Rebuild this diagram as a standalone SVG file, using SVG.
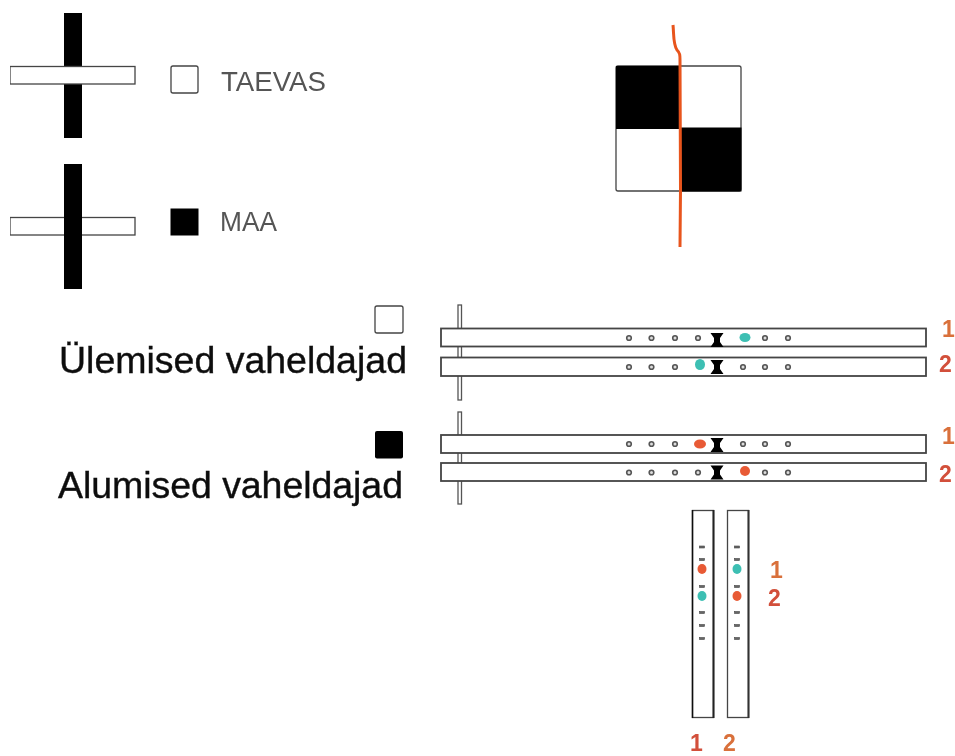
<svg xmlns="http://www.w3.org/2000/svg" width="955" height="756" viewBox="0 0 955 756">
<defs>
<style>
.w{fill:#fff;stroke:#444;stroke-width:1.3}
.b{fill:#000}
.bar{fill:#fff;stroke:#444;stroke-width:1.8}
.pin{fill:#fff;stroke:#555;stroke-width:1.3}
.d{fill:#ddd;stroke:#555;stroke-width:1.6}
.t{fill:#666;stroke:#444;stroke-width:.6}
.c{fill:#3dbfb3}
.r{fill:#e85a35}
.lbl{font-family:"Liberation Sans",Arial,sans-serif;font-size:27px;fill:#555}
.head{font-family:"Liberation Sans",Arial,sans-serif;font-size:37.500px;fill:#111;stroke:#111;stroke-width:.4}
.n{font-family:"Liberation Sans",Arial,sans-serif;font-size:23px;font-weight:bold}
.n1{fill:#d9703a}
.n2{fill:#d2503a}
</style>
<filter id="soft" x="0" y="0" width="100%" height="100%"><feGaussianBlur stdDeviation="0.6"/></filter>
<path id="x" d="M-6.500-7H6.500L3-2V2L6.500 7H-6.500L-3 2V-2Z" fill="#000"/>
</defs>
<rect width="955" height="756" fill="#fff"/>
<g filter="url(#soft)">
<g id="cross-taevas">
<rect class="b" x="64" y="13" width="18" height="125"/>
<rect class="w" x="10" y="66.500" width="125" height="17.500"/>
</g>
<g id="cross-maa">
<rect class="w" x="10" y="217.500" width="125" height="17.500"/>
<rect class="b" x="64" y="164" width="18" height="125"/>
</g>
<g id="legend-taevas">
<rect class="w" x="171" y="66" width="27" height="27" rx="2"/>
<text class="lbl" x="221" y="90.500" textLength="105" lengthAdjust="spacingAndGlyphs">TAEVAS</text>
</g>
<g id="legend-maa">
<rect class="b" x="170.500" y="208.500" width="28" height="27"/>
<text class="lbl" x="220" y="231" textLength="57" lengthAdjust="spacingAndGlyphs">MAA</text>
</g>
<g id="checker">
<rect class="w" x="616" y="66" width="125" height="125" rx="2"/>
<rect class="b" x="616" y="66" width="64" height="63"/>
<rect class="b" x="680" y="127.500" width="61.500" height="64"/>
</g>
<g id="upper-group">
<rect class="w" x="375" y="306" width="28" height="27" rx="2"/>
<text class="head" x="59" y="373" textLength="348">Ülemised vaheldajad</text>
<rect class="pin" x="458" y="305" width="3.500" height="95"/>
</g>
<g id="lower-group">
<rect class="b" x="375" y="431" width="28" height="27.500" rx="2"/>
<text class="head" x="58" y="498" textLength="345">Alumised vaheldajad</text>
<rect class="pin" x="458" y="412" width="3.500" height="92"/>
</g>
<g id="bar-u1">
<rect class="bar" x="441" y="328.500" width="485" height="18"/>
<circle class="d" cx="629" cy="338" r="2.300"/><circle class="d" cx="651.500" cy="338" r="2.300"/><circle class="d" cx="675" cy="338" r="2.300"/><circle class="d" cx="698" cy="338" r="2.300"/><circle class="d" cx="765" cy="338" r="2.300"/><circle class="d" cx="788" cy="338" r="2.300"/>
<use href="#x" x="717" y="340"/>
<ellipse class="c" cx="745" cy="337.500" rx="5.500" ry="4.500"/>
</g>
<g id="bar-u2">
<rect class="bar" x="441" y="357.500" width="485" height="18.500"/>
<circle class="d" cx="629" cy="367" r="2.300"/><circle class="d" cx="651.500" cy="367" r="2.300"/><circle class="d" cx="675" cy="367" r="2.300"/><circle class="d" cx="743" cy="367" r="2.300"/><circle class="d" cx="765" cy="367" r="2.300"/><circle class="d" cx="788" cy="367" r="2.300"/>
<use href="#x" x="717" y="367"/>
<ellipse class="c" cx="700" cy="364.500" rx="5" ry="5.500"/>
</g>
<g id="bar-l1">
<rect class="bar" x="441" y="435" width="485" height="18"/>
<circle class="d" cx="629" cy="444" r="2.300"/><circle class="d" cx="651.500" cy="444" r="2.300"/><circle class="d" cx="675" cy="444" r="2.300"/><circle class="d" cx="743" cy="444" r="2.300"/><circle class="d" cx="765" cy="444" r="2.300"/><circle class="d" cx="788" cy="444" r="2.300"/>
<use href="#x" x="717" y="445"/>
<ellipse class="r" cx="700" cy="444" rx="6" ry="4.500"/>
</g>
<g id="bar-l2">
<rect class="bar" x="441" y="463" width="485" height="18"/>
<circle class="d" cx="629" cy="472.500" r="2.300"/><circle class="d" cx="651.500" cy="472.500" r="2.300"/><circle class="d" cx="675" cy="472.500" r="2.300"/><circle class="d" cx="698" cy="472.500" r="2.300"/><circle class="d" cx="765" cy="472.500" r="2.300"/><circle class="d" cx="788" cy="472.500" r="2.300"/>
<use href="#x" x="717" y="472.500"/>
<ellipse class="r" cx="745" cy="471" rx="5" ry="5"/>
</g>
<g id="bar-v1">
<rect class="w" x="692.500" y="510.500" width="21" height="207"/>
<path d="M692.500 510V718" stroke="#111" stroke-width="1.500"/><path d="M713.500 510V718" stroke="#222" stroke-width="2"/>
<g class="t"><rect x="699.500" y="546" width="5" height="2"/><rect x="699.500" y="558.500" width="5" height="2"/><rect x="699.500" y="585.500" width="5" height="2"/><rect x="699.500" y="611.500" width="5" height="2"/><rect x="699.500" y="624.500" width="5" height="2"/><rect x="699.500" y="637.500" width="5" height="2"/></g>
<ellipse class="r" cx="702" cy="569" rx="4.500" ry="5"/>
<ellipse class="c" cx="702" cy="596" rx="4.500" ry="5"/>
</g>
<g id="bar-v2">
<rect class="w" x="727.500" y="510.500" width="21" height="207"/>
<path d="M748.500 510V718" stroke="#333" stroke-width="2"/>
<g class="t"><rect x="734.500" y="546" width="5" height="2"/><rect x="734.500" y="558.500" width="5" height="2"/><rect x="734.500" y="585.500" width="5" height="2"/><rect x="734.500" y="611.500" width="5" height="2"/><rect x="734.500" y="624.500" width="5" height="2"/><rect x="734.500" y="637.500" width="5" height="2"/></g>
<ellipse class="c" cx="737" cy="569" rx="4.500" ry="5"/>
<ellipse class="r" cx="737" cy="596" rx="4.500" ry="5"/>
</g>
<g id="numbers">
<text class="n n1" x="942" y="337">1</text>
<text class="n n2" x="939" y="372">2</text>
<text class="n n1" x="942" y="444">1</text>
<text class="n n2" x="939" y="482">2</text>
<text class="n n1" x="770" y="578">1</text>
<text class="n n2" x="768" y="606">2</text>
<text class="n n2" x="690" y="751">1</text>
<text class="n n1" x="723" y="751">2</text>
</g>
<g id="connectors">
<path d="M673 25C674 35 673 44 677 50C680 53 680 55 680 60L680.500 190L680 247" fill="none" stroke="#e8541f" stroke-width="3"/>
</g>
</g>
</svg>
